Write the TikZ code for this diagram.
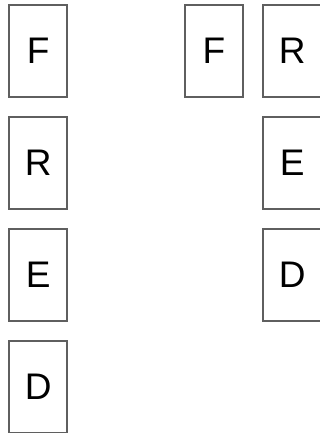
\documentclass[tikz,border=0pt]{standalone}
\usepackage{fontspec}
\setmainfont{Liberation Sans}
\definecolor{boxgray}{RGB}{95,95,95}
\begin{document}
\begin{tikzpicture}[x=1pt,y=-1pt,
  card/.style={draw=boxgray,line width=1.5pt,minimum width=58pt,minimum height=92pt,inner sep=0pt,font=\fontsize{37}{40}\selectfont,text=black}]
\useasboundingbox (0,0) rectangle (320,433);
\node[card] (lf) at (38.2,51) {F};
\node[card] (lr) at (38.2,163) {R};
\node[card] (le) at (38.2,275) {E};
\node[card] (ld) at (38.2,387) {D};
\node[card] (rf) at (213.8,51) {F};
\node[card] (rr) at (292.2,51) {R};
\node[card] (re) at (292.2,163) {E};
\node[card] (rd) at (292.2,275) {D};
\end{tikzpicture}
\end{document}
